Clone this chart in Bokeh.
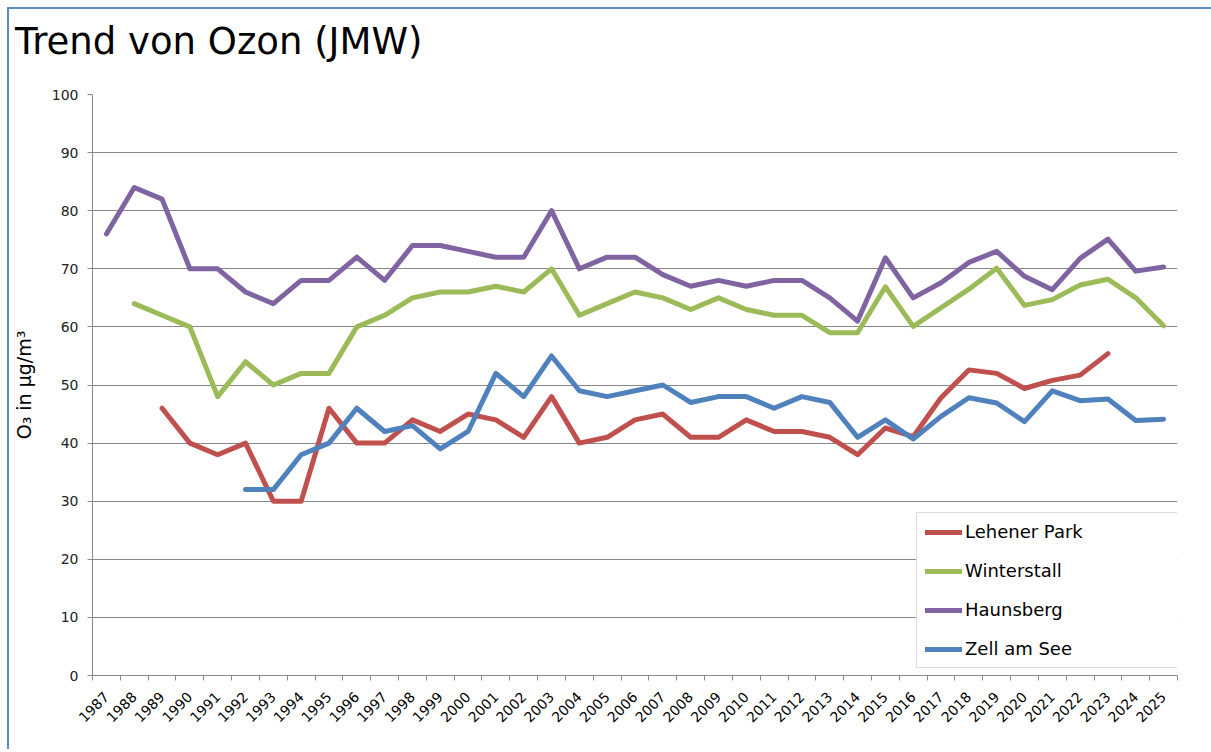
import math
from bokeh.plotting import figure
from bokeh.layouts import column
from bokeh.models import FixedTicker, Range1d, Legend, LegendItem, BasicTickFormatter, Div
from bokeh.embed import file_html
from bokeh.resources import INLINE

nan = float("nan")

years = list(range(1987, 2026))

lehener_park = [nan, nan, 46, 40, 38, 40, 30, 30, 46, 40, 40, 44, 42, 45, 44, 41, 48, 40, 41, 44,
                45, 41, 41, 44, 42, 42, 41, 38, 42.6, 41.1, 47.8, 52.6, 52.0, 49.4, 50.8, 51.7, 55.4, nan, nan]
winterstall = [nan, 64, 62, 60, 48, 54, 50, 52, 52, 60, 62, 65, 66, 66, 67, 66, 70, 62, 64, 66,
               65, 63, 65, 63, 62, 62, 59, 59, 66.9, 60.1, 63.3, 66.5, 70.1, 63.7, 64.7, 67.2, 68.2, 65.0, 60.2]
haunsberg = [76, 84, 82, 70, 70, 66, 64, 68, 68, 72, 68, 74, 74, 73, 72, 72, 80, 70, 72, 72,
             69, 67, 68, 67, 68, 68, 65, 61, 71.9, 65.0, 67.6, 71.1, 73.0, 68.7, 66.4, 71.8, 75.1, 69.6, 70.3]
zell_am_see = [nan, nan, nan, nan, nan, 32, 32, 38, 40, 46, 42, 43, 39, 42, 52, 48, 55, 49, 48, 49,
               50, 47, 48, 48, 46, 48, 47, 41, 44, 40.7, 44.6, 47.8, 46.9, 43.7, 49.0, 47.3, 47.6, 43.9, 44.1]

series_names = ["Lehener Park", "Winterstall", "Haunsberg", "Zell am See"]
series_values = [lehener_park, winterstall, haunsberg, zell_am_see]
series_colors = ["#C0504D", "#9BBB59", "#8064A2", "#4F81BD"]

y_ticks = list(range(0, 101, 10))
title_text = "Trend von Ozon (JMW)"

FONT = "DejaVu Sans"
GRID = "#888888"

title_div = Div(text=title_text, width=1202, height=60,
                styles={"font-family": FONT, "font-size": "37px", "line-height": "42px",
                        "color": "#000000", "padding-top": "7px", "padding-left": "1px",
                        "box-sizing": "border-box", "white-space": "nowrap"})

p = figure(width=1202, height=670, output_backend="svg", toolbar_location=None,
           x_range=Range1d(years[0] - 0.5, years[-1] + 0.5), y_range=Range1d(0, 100),
           min_border_left=80, min_border_right=34, min_border_top=15, min_border_bottom=74)

p.outline_line_color = None
p.background_fill_color = "white"
p.border_fill_color = "white"

# x axis
p.xaxis.ticker = FixedTicker(ticks=years, minor_ticks=[y - 0.5 for y in years] + [years[-1] + 0.5])
p.xaxis.formatter = BasicTickFormatter(use_scientific=False)
p.xaxis.major_label_orientation = math.pi / 4
p.xaxis.major_tick_line_color = None
p.xaxis.minor_tick_line_color = GRID
p.xaxis.minor_tick_in = 0
p.xaxis.minor_tick_out = 5
p.xaxis.axis_line_color = GRID
p.xaxis.major_label_text_font = FONT
p.xaxis.major_label_text_font_size = "14px"
p.xaxis.major_label_text_color = "#000000"
p.xaxis.major_label_standoff = 13
p.xgrid.grid_line_color = None

# y axis
p.yaxis.ticker = FixedTicker(ticks=y_ticks)
p.yaxis.axis_line_color = GRID
p.yaxis.major_tick_line_color = GRID
p.yaxis.major_tick_in = 0
p.yaxis.major_tick_out = 5
p.yaxis.minor_tick_line_color = None
p.yaxis.major_label_text_font = FONT
p.yaxis.major_label_text_font_size = "14px"
p.yaxis.major_label_text_color = "#222222"
p.yaxis.major_label_standoff = 9
p.yaxis.axis_label = "O\u2083 in \u00b5g/m\u00b3"
p.yaxis.axis_label_text_font = FONT
p.yaxis.axis_label_text_font_size = "19px"
p.yaxis.axis_label_text_font_style = "normal"
p.yaxis.axis_label_text_color = "#000000"
p.yaxis.axis_label_standoff = 14
p.ygrid.grid_line_color = GRID
p.ygrid.grid_line_width = 1

items = []
for name, vals, col in zip(series_names, series_values, series_colors):
    r = p.line(years, vals, line_color=col, line_width=5, line_cap="round", line_join="round")
    items.append(LegendItem(label=name, renderers=[r]))

legend = Legend(items=items, location=(824, 7))
legend.label_text_font = FONT
legend.label_text_font_size = "18px"
legend.label_text_color = "#000000"
legend.border_line_color = "#BBBBBB"
legend.border_line_width = 1
legend.background_fill_color = "white"
legend.background_fill_alpha = 1
legend.padding = 8
legend.spacing = 18
legend.label_height = 20
legend.glyph_height = 20
legend.glyph_width = 37
legend.label_standoff = 3
legend.label_width = 210
legend.margin = 0
p.add_layout(legend, "center")

layout = column(title_div, p, spacing=0,
                styles={"border-top": "2px solid #5B88C6", "border-left": "2px solid #5B88C6",
                        "margin-left": "7px", "margin-top": "7px", "background-color": "white"})

open("out.html", "w").write(file_html(layout, INLINE))
